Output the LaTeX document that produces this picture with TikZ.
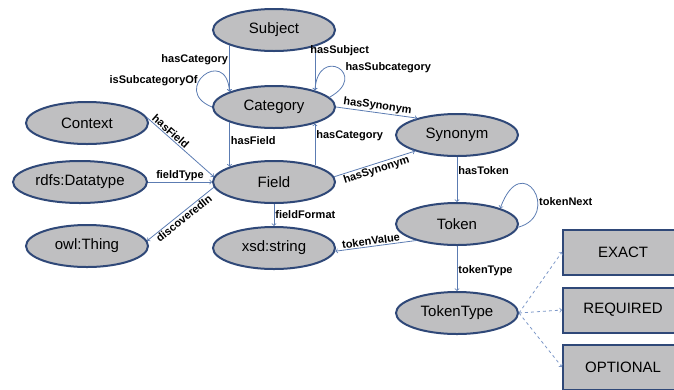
\documentclass[tikz,border=0pt]{standalone}
\usepackage{fontspec}
\setmainfont{Liberation Sans}
\usetikzlibrary{shapes.geometric}

\definecolor{nodefill}{RGB}{191,191,193}
\definecolor{nodeline}{RGB}{47,72,120}
\definecolor{edgeline}{RGB}{92,124,178}
\definecolor{dashline}{RGB}{125,152,200}

\begin{document}
\begin{tikzpicture}[x=1pt,y=-1pt,
	concept/.style={ellipse,draw=nodeline,line width=2pt,fill=nodefill,minimum width=122pt,minimum height=42pt,inner sep=0pt,font=\fontsize{15}{18}\selectfont},
	valuebox/.style={rectangle,draw=nodeline,line width=2pt,fill=nodefill,minimum width=120pt,minimum height=45pt,inner sep=0pt,font=\fontsize{15}{18}\selectfont},
	rel/.style={draw=edgeline,line width=0.8pt,->},
	enum/.style={draw=dashline,line width=0.8pt,dashed,->},
	lbl/.style={font=\bfseries\fontsize{11}{13}\selectfont,inner sep=1pt}]
	\useasboundingbox (0,0) rectangle (674,389);
	\clip (0,0) rectangle (674,389);
	
	\node[concept] (subject) at (274,30) {Subject};
	\node[concept] (category) at (274,107) {Category};
	\node[concept] (field) at (274,182) {Field};
	\node[concept] (xsd) at (274,248) {xsd:string};
	\node[concept] (context) at (87,123) {Context};
	\node[concept,minimum width=134pt] (datatype) at (80,182) {rdfs:Datatype};
	\node[concept] (thing) at (87,246) {owl:Thing};
	\node[concept] (synonym) at (457,135) {Synonym};
	\node[concept] (token) at (457,224) {Token};
	\node[concept] (tokentype) at (457,313) {TokenType};
	
	\node[valuebox] (exact) at (623,252) {EXACT};
	\node[valuebox] (required) at (623,310) {REQUIRED};
	\node[valuebox] (optional) at (623,367) {OPTIONAL};
	
	\draw[rel] (subject.199) -- node[lbl,left,pos=.3] {hasCategory} (subject.199 |- category.161);
	\draw[rel] (subject.-22) -- node[lbl,right,pos=.1,xshift=-6pt] {hasSubject} (subject.-22 |- category.22);
	\draw[rel] (category.west) .. controls (170,90) and (226,45) .. node[lbl,left,pos=.4] {isSubcategoryOf} (category.161);
	\draw[rel] (category.10) .. controls (370,75) and (318,44) .. node[lbl,above right,pos=.35] {hasSubcategory} (category.22);
	
	\draw[rel] (category.east) -- node[lbl,sloped,above] {hasSynonym} (synonym.157);
	\draw[rel] (field.5) -- node[lbl,sloped,below] {hasSynonym} (synonym.201);
	\draw[rel] (category.-161) -- node[lbl,right,pos=.4] {hasField} (category.-161 |- field.161);
	\draw[rel] (field.22) -- node[lbl,right,pos=.7] {hasCategory} (field.22 |- category.-22);
	
	\draw[rel] (context.5) -- node[lbl,sloped,above,pos=.3] {hasField} (field.175);
	\draw[rel] (datatype.east) -- node[lbl,above] {fieldType} (field.west);
	\draw[rel] (field.185) -- node[lbl,sloped,below] {discoveredIn} (thing.5);
	\draw[rel] (field.south) -- node[lbl,right] {fieldFormat} (xsd.north);
	
	\draw[rel] (token.202) -- node[lbl,sloped,above,pos=.55] {tokenValue} (xsd.-3);
	\draw[rel] (synonym.south) -- node[lbl,right,pos=.3] {hasToken} (token.north);
	\draw[rel] (token.-3) .. controls (562,215) and (522,148) .. node[lbl,right,pos=.35] {tokenNext} (token.20);
	\draw[rel] (token.south) -- node[lbl,right,pos=.55] {tokenType} (tokentype.north);
	
	\draw[enum] (tokentype.east) -- (exact.west);
	\draw[enum] (tokentype.east) -- (required.west);
	\draw[enum] (tokentype.east) -- (optional.west);
\end{tikzpicture}
\end{document}
